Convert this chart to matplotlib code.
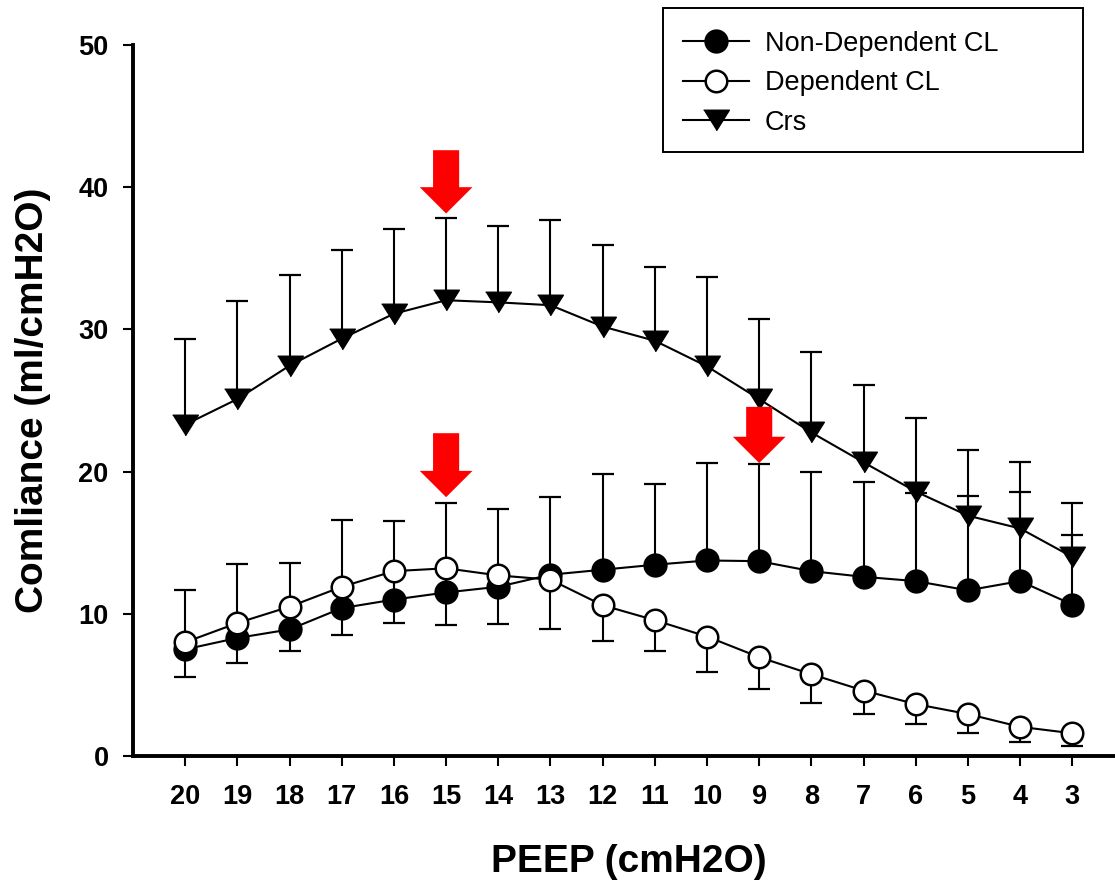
import numpy as np
import matplotlib
matplotlib.use("Agg")
import matplotlib.pyplot as plt
from matplotlib.patches import FancyArrow, Rectangle

plt.rcParams["font.family"] = ["Liberation Sans", "DejaVu Sans"]

# ── Data ──
peep = [20, 19, 18, 17, 16, 15, 14, 13, 12, 11, 10, 9, 8, 7, 6, 5, 4, 3]

nondep_mean = [7.5, 8.3, 8.9, 10.4, 11.0, 11.5, 11.9, 12.75, 13.1, 13.45,
               13.75, 13.7, 13.0, 12.6, 12.3, 11.65, 12.3, 10.65]
nondep_sd = [4.15, 5.2, 4.65, 6.2, 5.5, 6.3, 5.5, 5.45, 6.7, 5.65,
             6.85, 6.85, 7.0, 6.7, 6.2, 6.65, 6.3, 4.9]

dep_mean = [8.0, 9.35, 10.5, 11.9, 13.0, 13.2, 12.7, 12.4, 10.6, 9.55,
            8.4, 6.95, 5.75, 4.6, 3.65, 2.95, 2.05, 1.6]
dep_sd = [2.45, 2.8, 3.1, 3.4, 3.65, 4.0, 3.4, 3.45, 2.5, 2.2,
          2.5, 2.25, 2.05, 1.65, 1.4, 1.3, 1.05, 0.9]

crs_mean = [23.3, 25.1, 27.45, 29.35, 31.1, 32.05, 31.9, 31.7, 30.2, 29.2,
            27.4, 25.1, 22.75, 20.65, 18.6, 16.9, 16.0, 14.0]
crs_sd = [6.0, 6.9, 6.4, 6.25, 5.95, 5.75, 5.4, 6.0, 5.7, 5.2,
          6.3, 5.6, 5.65, 5.45, 5.2, 4.6, 4.7, 3.8]

labels = ["Non-Dependent CL", "Dependent CL", "Crs"]

# red arrows pointing at best PEEP
arrow_peep = [15, 15, 9]
arrow_top = [42.6, 22.7, 24.55]
arrow_tip = [38.15, 18.2, 20.6]

# ── Plot ──
fig = plt.figure(figsize=(11.15, 8.8), dpi=100)
ax = fig.add_axes([0.1193, 0.1409, 0.8892, 0.8080])

tri = [(-1, 0.8), (1, 0.8), (0, -0.8)]
x = np.array(peep)
series = [
    (nondep_mean, nondep_sd, 1, dict(marker="o", ms=16, mfc="black", mew=1.5)),
    (dep_mean, dep_sd, -1, dict(marker="o", ms=15.5, mfc="white", mew=1.8)),
    (crs_mean, crs_sd, 1, dict(marker=tri, ms=18.5, mfc="black", mew=1.0)),
]

handles = []
for i, (mean, sd, direction, mk) in enumerate(series):
    z = 2 + 2 * i
    mean = np.array(mean)
    end = mean + direction * np.array(sd)
    ax.vlines(x, mean, end, color="black", lw=1.5, zorder=z)
    ax.plot(x, end, ls="none", marker="_", ms=16, mew=1.6, color="black", zorder=z)
    line, = ax.plot(x, mean, color="black", lw=1.5, mec="black", zorder=z + 1,
                    label=labels[i], **mk)
    handles.append(line)

for px, top, tip in zip(arrow_peep, arrow_top, arrow_tip):
    ax.add_patch(FancyArrow(px, top, 0, tip - top, width=0.5, head_width=1.01,
                            head_length=1.85, length_includes_head=True,
                            color="#ff0000", lw=0, zorder=10))

ax.set_xlim(21, 2)
ax.set_ylim(0, 50)
ax.set_xticks(peep)
ax.set_yticks(range(0, 51, 10))

for s in ["top", "right"]:
    ax.spines[s].set_visible(False)
for s in ["left", "bottom"]:
    ax.spines[s].set_linewidth(2.8)

ax.tick_params(direction="out", length=7.5, width=1.5, labelsize=19.5)
ax.tick_params(axis="x", pad=13)
ax.tick_params(axis="y", pad=10)
for lbl in ax.get_xticklabels() + ax.get_yticklabels():
    lbl.set_fontweight("bold")

ax.set_xlabel("PEEP (cmH2O)", fontsize=28, fontweight="bold")
ax.set_ylabel("Comliance (ml/cmH2O)", fontsize=28, fontweight="bold")
ax.xaxis.label.set_va("center")
ax.yaxis.label.set_va("center")
ax.xaxis.set_label_coords(0.5, -0.149)
ax.yaxis.set_label_coords(-0.1009, 0.5)

ax.legend(handles=handles, loc="upper left", bbox_to_anchor=(0.6126, 0.965),
          bbox_transform=fig.transFigure, frameon=False, fontsize=19.5,
          handlelength=2.42, handletextpad=0.6, labelspacing=0.5,
          borderpad=0, borderaxespad=0)
fig.add_artist(Rectangle((0.5946, 0.8273), 0.3767, 0.1636, transform=fig.transFigure,
                         fill=False, ec="black", lw=1.4))

fig.savefig("out.png", dpi=100)
